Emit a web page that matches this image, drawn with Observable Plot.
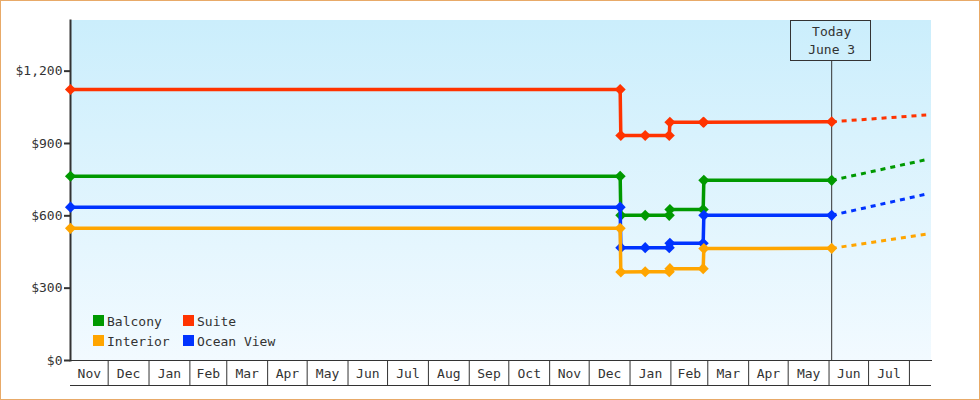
<!DOCTYPE html>
<html><head><meta charset="utf-8">
<script src="https://cdn.jsdelivr.net/npm/d3@7"></script>
<script src="https://cdn.jsdelivr.net/npm/@observablehq/plot@0.6"></script>
<style>body{margin:0;background:#fff}</style>
</head><body><div id="chart"></div>
<script>
// ---- data ----
const seriesNames = ["Balcony", "Ocean View", "Interior", "Suite"];
const seriesColors = ["#009900", "#0033ff", "#ffa500", "#ff3300"];
const legendOrder = ["Balcony", "Suite", "Interior", "Ocean View"];

const priceDates = ["2012-11-02T10:00Z", "2013-12-24T12:00Z", "2013-12-25T00:00Z", "2014-01-12T12:00Z",
  "2014-01-30T18:00Z", "2014-01-31T06:00Z", "2014-02-25T12:00Z", "2014-02-26T00:00Z", "2014-06-03T00:00Z"];
const balcony   = [764, 764, 602, 602, 602, 626, 626, 747, 747];
const oceanView = [636, 636, 468, 468, 468, 486, 486, 602, 602];
const interior  = [548, 548, 367, 368, 368, 381, 381, 464, 465];
const suite     = [1124, 1124, 933, 933, 933, 988, 988, 988, 990];

const forecastDates = ["2014-06-03T00:00Z", "2014-08-13T18:00Z"];
const balconyForecast   = [747, 833];
const oceanViewForecast = [602, 690];
const interiorForecast  = [465, 524];
const suiteForecast     = [990, 1018];

const yTicks = [0, 300, 600, 900, 1200];
const monthNames = ["Nov","Dec","Jan","Feb","Mar","Apr","May","Jun","Jul","Aug","Sep","Oct",
  "Nov","Dec","Jan","Feb","Mar","Apr","May","Jun","Jul"];
const monthStarts = ["2012-12-01","2013-01-01","2013-02-01","2013-03-01","2013-04-01","2013-05-01",
  "2013-06-01","2013-07-01","2013-08-01","2013-09-01","2013-10-01","2013-11-01","2013-12-01",
  "2014-01-01","2014-02-01","2014-03-01","2014-04-01","2014-05-01","2014-06-01","2014-07-01","2014-08-01"];
const xStart = "2012-11-02T10:00Z";
const xEnd = "2014-08-17T18:00Z";
const todayDate = "2014-06-03T00:00Z";
const todayLabel = ["Today\nJune 3"];

// ---- build tables ----
const seriesValues = {"Balcony": balcony, "Ocean View": oceanView, "Interior": interior, "Suite": suite};
const seriesForecast = {"Balcony": balconyForecast, "Ocean View": oceanViewForecast, "Interior": interiorForecast, "Suite": suiteForecast};
const colorOf = Object.fromEntries(seriesNames.map((n, i) => [n, seriesColors[i]]));

const boundaries = [xStart, ...monthStarts].map(d => new Date(d));
const monthLabels = monthNames.map((name, i) => ({
  name, mid: new Date((+boundaries[i] + +boundaries[i + 1]) / 2)
}));

const ink = "#333";
const font = "DejaVu Sans Mono";

function background(index, scales, values, dims) {
  const {width, height, marginLeft, marginRight, marginTop, marginBottom} = dims;
  const g = d3.create("svg:g");
  const grad = g.append("defs").append("linearGradient").attr("id", "bg-grad")
    .attr("x1", 0).attr("y1", 0).attr("x2", 0).attr("y2", 1);
  grad.append("stop").attr("offset", "0%").attr("stop-color", "#cbeefc");
  grad.append("stop").attr("offset", "100%").attr("stop-color", "#f2faff");
  g.append("rect").attr("x", marginLeft).attr("y", marginTop)
    .attr("width", width - marginLeft - marginRight).attr("height", height - marginTop - marginBottom)
    .attr("fill", "url(#bg-grad)");
  g.append("rect").attr("x", 0.5).attr("y", 0.5).attr("width", width - 1).attr("height", height - 1)
    .attr("fill", "none").attr("stroke", "#e8aa68");
  return g.node();
}

function legend(index, scales, values, dims) {
  const g = d3.create("svg:g").attr("font-family", font).attr("font-size", 13)
    .attr("fill", ink).attr("text-anchor", "start");
  legendOrder.forEach((name, i) => {
    const col = i % 2, row = Math.floor(i / 2);
    const x = dims.marginLeft + 23 + col * 90;
    const y = dims.height - dims.marginBottom - 45 + row * 20;
    g.append("rect").attr("x", x).attr("y", y).attr("width", 11).attr("height", 11).attr("fill", colorOf[name]);
    g.append("text").attr("x", x + 14).attr("y", y + 10.5).attr("text-anchor", "start").text(name);
  });
  return g.node();
}

function todayBox(index, scales, values, dims) {
  const x = Math.round(scales.x(new Date(todayDate)));
  return d3.create("svg:rect")
    .attr("x", x - 40.5).attr("y", dims.marginTop + 0.5)
    .attr("width", 80).attr("height", 40)
    .attr("fill", "none").attr("stroke", ink).node();
}

const seriesMarks = seriesNames.flatMap(name => {
  const rows = priceDates.map((d, i) => ({name, date: new Date(d), price: seriesValues[name][i]}));
  const frows = forecastDates.map((d, i) => ({name, date: new Date(d), price: seriesForecast[name][i]}));
  return [
    Plot.line(frows, {x: "date", y: "price", stroke: colorOf[name], strokeWidth: 3, strokeDasharray: "5,5", strokeLinecap: "butt"}),
    Plot.line(rows, {x: "date", y: "price", stroke: colorOf[name], strokeWidth: 3.5, strokeLinejoin: "miter", strokeLinecap: "butt"}),
    Plot.dot(rows, {x: "date", y: "price", fill: colorOf[name], symbol: "diamond2", r: 5})
  ];
});

const chart = Plot.plot({
  width: 980,
  height: 400,
  marginLeft: 70,
  marginRight: 49,
  marginTop: 20,
  marginBottom: 40,
  style: {background: "white", fontFamily: font, fontSize: "13px", color: ink},
  x: {type: "utc", domain: [new Date(xStart), new Date(xEnd)]},
  y: {domain: [0, 1410]},
  marks: [
    background,
    Plot.axisY(yTicks, {tickFormat: d => "$" + d3.format(",")(d), tickSize: 6, tickPadding: 2, strokeWidth: 2, stroke: ink, fill: ink, label: null}),
    Plot.axisX(monthStarts.map(d => new Date(d)), {tickSize: 25, tickFormat: () => "", stroke: ink, label: null}),
    Plot.text(monthLabels, {x: "mid", text: "name", frameAnchor: "bottom", lineAnchor: "middle", dy: 13, fill: ink}),
    Plot.ruleY([0], {dy: 25, stroke: ink}),
    Plot.frame({anchor: "bottom", stroke: ink}),
    Plot.frame({anchor: "left", stroke: ink, strokeWidth: 2}),
    Plot.ruleX([new Date(todayDate)], {insetTop: 40, stroke: ink}),
    todayBox,
    Plot.text(todayLabel, {x: () => new Date(todayDate), frameAnchor: "top", lineAnchor: "top", dy: 3, lineHeight: 1.385, fill: ink}),
    ...seriesMarks,
    legend
  ]
});
document.getElementById("chart").appendChild(chart);
</script>
</body></html>
